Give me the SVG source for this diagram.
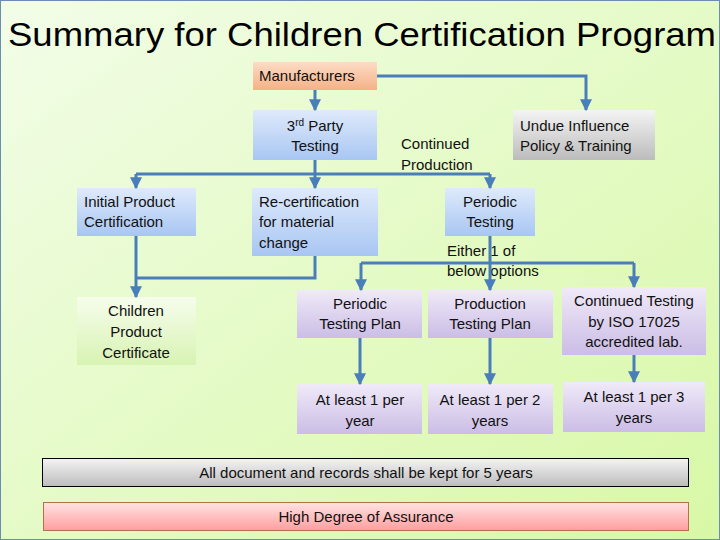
<svg xmlns="http://www.w3.org/2000/svg" width="720" height="540" viewBox="0 0 720 540">
<defs>
<linearGradient id="bg" x1="0" y1="0" x2="1" y2="1">
<stop offset="0" stop-color="#f2fde8"/>
<stop offset="1" stop-color="#d8f8a6"/>
</linearGradient>
<linearGradient id="gBlue" x1="0" y1="0" x2="0" y2="1">
<stop offset="0" stop-color="#dfeafb"/>
<stop offset="1" stop-color="#a8c6f3"/>
</linearGradient>
<linearGradient id="gOrange" x1="0" y1="0" x2="0" y2="1">
<stop offset="0" stop-color="#fcdcc6"/>
<stop offset="1" stop-color="#f5b187"/>
</linearGradient>
<linearGradient id="gGray" x1="0" y1="0" x2="0" y2="1">
<stop offset="0" stop-color="#f4f4f4"/>
<stop offset="1" stop-color="#bcbcbc"/>
</linearGradient>
<linearGradient id="gPurple" x1="0" y1="0" x2="0" y2="1">
<stop offset="0" stop-color="#f0eaf8"/>
<stop offset="1" stop-color="#cbbde6"/>
</linearGradient>
<linearGradient id="gGreen" x1="0" y1="0" x2="0" y2="1">
<stop offset="0" stop-color="#f6fdec"/>
<stop offset="1" stop-color="#d8f3b3"/>
</linearGradient>
<linearGradient id="gPink" x1="0" y1="0" x2="0" y2="1">
<stop offset="0" stop-color="#ffe3e3"/>
<stop offset="1" stop-color="#ff9e9e"/>
</linearGradient>
<marker id="arr" viewBox="0 0 10 10" refX="9" refY="5" markerWidth="4" markerHeight="4" orient="auto" markerUnits="strokeWidth">
<path d="M0,0 L10,5 L0,10 z" fill="#4a7ebb"/>
</marker>
</defs>
<style>
text{font-family:"Liberation Sans",Arial,sans-serif;font-size:15px;fill:#111}
.c{text-anchor:middle}
.title{font-size:34px;fill:#000}
.conn path{fill:none;stroke:#4a7ebb;stroke-width:3}
.arrow{marker-end:url(#arr)}
</style>
<rect x="0" y="0" width="720" height="540" fill="url(#bg)"/>
<rect x="0.5" y="0.5" width="719" height="539" fill="none" stroke="#6b8db3" stroke-width="1"/>
<text class="title" x="8" y="46" textLength="708" lengthAdjust="spacingAndGlyphs">Summary for Children Certification Program</text>

<g id="manufacturers">
<rect x="253" y="62" width="124" height="28" fill="url(#gOrange)"/>
<text x="259" y="81">Manufacturers</text>
</g>
<g id="third-party">
<rect x="253" y="110" width="124" height="50" fill="url(#gBlue)"/>
<text class="c" x="315" y="131">3<tspan font-size="10" dy="-5">rd</tspan><tspan dy="5"> Party</tspan></text>
<text class="c" x="315" y="151">Testing</text>
</g>
<g id="undue">
<rect x="513" y="110" width="142" height="50" fill="url(#gGray)"/>
<text x="520" y="131">Undue Influence</text>
<text x="520" y="151">Policy &amp; Training</text>
</g>
<g id="continued-production">
<text x="401" y="149">Continued</text>
<text x="401" y="170">Production</text>
</g>
<g id="initial">
<rect x="77" y="188" width="119" height="48" fill="url(#gBlue)"/>
<text x="84" y="207">Initial Product</text>
<text x="84" y="227">Certification</text>
</g>
<g id="recert">
<rect x="252" y="188" width="126" height="68" fill="url(#gBlue)"/>
<text x="259" y="207">Re-certification</text>
<text x="259" y="227">for material</text>
<text x="259" y="248">change</text>
</g>
<g id="periodic">
<rect x="445" y="188" width="90" height="48" fill="url(#gBlue)"/>
<text class="c" x="490" y="207">Periodic</text>
<text class="c" x="490" y="227">Testing</text>
</g>
<g id="children">
<rect x="77" y="297" width="119" height="68" fill="url(#gGreen)"/>
<text class="c" x="136" y="316">Children</text>
<text class="c" x="136" y="337">Product</text>
<text class="c" x="136" y="358">Certificate</text>
</g>
<g id="either">
<text x="447" y="256">Either 1 of</text>
<text x="447" y="276">below options</text>
</g>
<g id="ptp">
<rect x="297" y="290" width="125" height="48" fill="url(#gPurple)"/>
<text class="c" x="360" y="309">Periodic</text>
<text class="c" x="360" y="329">Testing Plan</text>
</g>
<g id="prodtp">
<rect x="428" y="290" width="125" height="48" fill="url(#gPurple)"/>
<text class="c" x="490" y="309">Production</text>
<text class="c" x="490" y="329">Testing Plan</text>
</g>
<g id="iso">
<rect x="562" y="287" width="144" height="68" fill="url(#gPurple)"/>
<text class="c" x="634" y="306">Continued Testing</text>
<text class="c" x="634" y="327">by ISO 17025</text>
<text class="c" x="634" y="347">accredited lab.</text>
</g>
<g id="y1">
<rect x="297" y="384" width="125" height="50" fill="url(#gPurple)"/>
<text class="c" x="360" y="405">At least 1 per</text>
<text class="c" x="360" y="426">year</text>
</g>
<g id="y2">
<rect x="428" y="384" width="125" height="50" fill="url(#gPurple)"/>
<text class="c" x="490" y="405">At least 1 per 2</text>
<text class="c" x="490" y="426">years</text>
</g>
<g id="y3">
<rect x="563" y="382" width="142" height="50" fill="url(#gPurple)"/>
<text class="c" x="634" y="402">At least 1 per 3</text>
<text class="c" x="634" y="423">years</text>
</g>
<g id="records">
<rect x="42.5" y="458.5" width="646" height="28" fill="url(#gGray)" stroke="#000" stroke-width="1"/>
<text class="c" x="366" y="478">All document and records shall be kept for 5 years</text>
</g>
<g id="assurance">
<rect x="43.5" y="502.5" width="645" height="28" fill="url(#gPink)" stroke="#b5704a" stroke-width="1"/>
<text class="c" x="366" y="522">High Degree of Assurance</text>
</g>

<g class="conn">
<path class="arrow" d="M315,90 V110"/>
<path class="arrow" d="M377,76 H586 V110"/>
<path d="M315,160 V174 M136,174 H490"/>
<path class="arrow" d="M136,174 V188"/>
<path class="arrow" d="M315,174 V188"/>
<path class="arrow" d="M490,174 V188"/>
<path class="arrow" d="M136,236 V297"/>
<path d="M315,256 V278 H136"/>
<path class="arrow" d="M490,236 V290"/>
<path d="M361,263 H634"/>
<path class="arrow" d="M361,263 V290"/>
<path class="arrow" d="M634,263 V287"/>
<path class="arrow" d="M360,338 V384"/>
<path class="arrow" d="M490,338 V384"/>
<path class="arrow" d="M634,355 V382"/>
</g>
</svg>
